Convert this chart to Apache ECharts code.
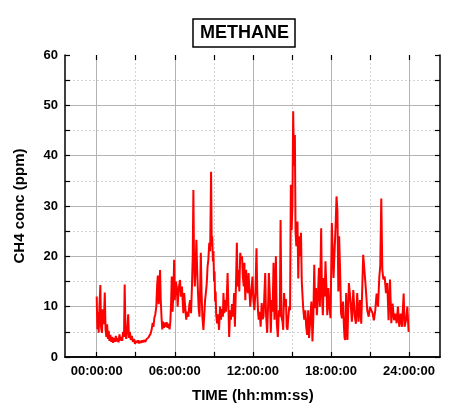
<!DOCTYPE html>
<html>
<head>
<meta charset="utf-8">
<script src="https://cdn.jsdelivr.net/npm/echarts@6/dist/echarts.min.js"></script>
<style>html,body{margin:0;padding:0;background:#fff}#c{width:463px;height:412px}</style>
</head>
<body>
<div id="c"></div>
<script>
// Time of day (hours) and CH4 concentration (ppm)
var timeHours = [
  0.00,0.05,0.10,0.15,0.22,0.28,0.33,0.40,0.47,0.55,0.62,0.68,0.74,0.80,0.86,0.92,0.98,1.05,1.12,1.19,1.26,1.33,1.40,1.47,1.54,1.61,1.68,1.75,1.82,1.89,1.96,2.03,2.10,
  2.15,2.21,2.27,2.34,2.42,2.48,2.55,2.62,2.70,2.78,2.86,2.94,
  3.02,3.10,3.18,3.26,3.34,3.42,3.50,3.58,3.66,3.74,3.82,3.90,3.98,4.06,4.14,4.22,4.30,4.36,4.43,4.50,
  4.58,4.65,4.70,4.76,4.82,4.87,4.92,4.98,5.04,5.10,5.17,5.24,5.31,5.38,5.45,5.52,5.60,5.66,5.72,5.77,5.83,5.90,5.95,6.00,
  6.08,6.15,6.22,6.30,6.40,6.47,6.55,6.62,6.66,6.72,6.80,6.88,6.95,7.05,7.12,7.18,7.25,7.32,7.38,7.43,7.48,7.54,7.60,7.66,7.72,7.78,7.84,7.90,7.96,
  8.00,8.06,8.12,8.20,8.27,8.33,8.40,8.46,8.52,8.58,8.65,8.72,8.79,8.84,8.88,8.93,8.97,9.02,9.06,9.10,9.14,9.18,
  9.25,9.32,9.40,9.48,9.55,9.62,9.70,9.74,9.80,9.87,9.93,10.00,10.06,10.12,10.18,10.25,10.32,10.40,10.48,10.56,10.62,10.70,10.77,10.83,10.90,10.96,
  11.03,11.10,11.17,11.23,11.30,11.35,11.42,11.48,11.55,11.62,11.67,11.73,11.80,11.87,11.97,12.04,12.12,12.20,12.28,12.34,12.40,12.45,12.52,12.60,12.68,12.75,12.82,12.88,12.95,
  13.01,13.10,13.17,13.23,13.30,13.38,13.45,13.52,13.59,13.66,13.72,13.77,13.84,13.92,14.00,14.07,14.13,14.20,14.28,14.33,14.40,14.47,14.54,14.60,14.66,14.72,14.80,14.86,
  14.92,14.98,15.04,15.10,15.16,15.23,15.28,15.34,15.43,15.49,15.55,15.62,15.70,15.76,15.82,15.87,15.95,16.03,16.10,16.18,16.25,16.32,16.40,16.50,16.58,16.65,16.72,16.78,16.85,16.92,
  17.00,17.08,17.15,17.25,17.31,17.38,17.45,17.52,17.58,17.65,17.72,17.80,17.88,17.97,18.07,18.13,18.20,18.28,18.36,18.43,18.50,18.57,18.63,18.70,18.78,18.85,18.93,19.00,19.05,
  19.10,19.17,19.27,19.38,19.51,19.61,19.72,19.82,19.92,20.02,20.12,20.23,20.33,20.48,20.59,20.69,20.79,20.90,
  21.00,21.10,21.20,21.30,21.41,21.51,21.62,21.72,21.79,21.87,21.95,22.03,22.13,22.23,22.33,22.43,22.54,22.64,22.74,22.85,22.95,23.05,23.15,23.25,23.36,23.46,23.59,23.66,23.77,23.87,23.97
];
var ch4Ppm = [
  12.0,5.5,9.0,4.8,10.5,14.3,6.0,4.8,9.5,6.5,12.8,5.5,4.0,6.5,3.6,5.2,3.2,4.4,3.0,4.0,2.8,3.8,3.0,4.2,3.1,3.8,2.9,4.5,3.3,4.0,3.2,5.0,4.0,
  14.4,5.0,3.6,5.2,8.5,3.8,5.0,3.4,4.2,3.0,3.6,2.6,
  3.2,2.8,3.3,2.7,3.2,2.8,3.3,2.9,3.4,3.0,3.5,3.2,3.9,3.6,4.6,5.4,6.8,6.0,7.8,8.4,
  10.0,14.5,16.2,10.5,14.0,17.3,11.5,8.0,5.5,7.0,5.8,6.8,6.0,6.9,5.8,6.6,5.5,7.0,11.0,16.0,9.0,13.0,19.3,11.3,
  15.0,14.0,10.0,13.5,15.3,12.0,14.0,10.5,8.7,12.7,10.0,7.4,9.0,8.0,10.5,11.3,8.7,14.0,20.0,33.2,19.3,14.0,18.0,23.3,17.3,13.0,9.5,8.0,14.5,
  20.7,12.7,8.0,5.4,8.5,11.3,13.0,14.7,18.0,19.3,22.7,21.0,36.8,22.0,24.0,19.0,21.0,15.0,17.0,11.0,13.0,8.5,
  6.7,8.5,5.4,10.0,7.4,9.5,8.0,12.7,8.7,11.3,9.0,12.0,16.7,10.0,4.0,9.3,7.4,10.5,8.0,12.7,6.0,14.0,22.7,14.0,17.3,13.0,
  20.7,19.5,20.0,16.0,14.0,18.7,11.3,17.3,14.0,12.7,16.7,13.5,10.0,12.5,16.0,11.3,9.3,13.0,21.6,12.7,9.0,7.4,9.0,6.0,10.7,7.5,8.0,12.0,16.7,
  8.7,4.8,10.0,16.7,12.7,4.8,11.3,9.0,18.7,7.4,12.0,20.0,6.7,4.0,9.3,8.0,27.2,8.0,7.0,5.4,12.7,10.0,11.5,6.0,5.4,7.7,10.0,9.3,
  34.2,25.2,30.0,48.8,38.0,44.1,25.0,22.0,26.9,15.6,24.0,20.0,24.7,15.0,12.0,9.7,7.4,9.3,6.0,4.4,9.3,3.8,7.0,11.0,3.1,8.0,18.3,9.7,13.7,8.3,
  12.0,17.7,10.0,25.6,12.3,8.3,15.7,12.0,19.0,14.0,8.3,13.7,10.0,7.7,26.6,21.7,15.7,21.0,26.0,31.9,29.0,13.0,24.0,17.7,8.7,7.7,11.0,6.0,3.8,
  3.4,12.7,3.4,14.7,11.0,7.0,13.3,8.3,6.6,12.7,7.0,11.3,6.6,20.3,16.7,13.3,9.3,8.0,
  9.9,9.3,8.7,7.3,9.3,12.6,10.0,16.0,18.0,31.5,17.3,15.4,16.0,12.7,14.7,7.3,15.4,6.7,10.6,7.3,8.6,6.7,10.0,6.0,8.6,6.0,12.6,6.0,7.3,10.0,5.0
];
var xTickHours = [0, 6, 12, 18, 24];
var yTicks = [0, 10, 20, 30, 40, 50, 60];

var FONT = '"Liberation Sans", Arial, sans-serif';
var seriesData = timeHours.map(function (h, i) { return [h, ch4Ppm[i]]; });
function pad(n) { return (n < 10 ? '0' : '') + n; }

var chart = echarts.init(document.getElementById('c'), null, {renderer: 'canvas'});
var frameLine = {show: true, lineStyle: {color: '#000', width: 1.5}};
var inTick = {show: true, inside: true, length: 5, lineStyle: {color: '#000', width: 1.2}};
var noLabel = {show: false};
var noSplit = {show: false};
var xMin = xTickHours[0], xMax = xTickHours[xTickHours.length - 1];
var yMin = yTicks[0], yMax = yTicks[yTicks.length - 1];

chart.setOption({
  animation: false,
  backgroundColor: '#fff',
  title: {
    text: 'METHANE', left: 193, top: 19,
    borderColor: '#000', borderWidth: 1.5, padding: [5, 6, 5, 7],
    textStyle: {fontFamily: FONT, fontWeight: 'bold', fontSize: 18, color: '#000'}
  },
  grid: [
    {left: 65, right: 23, top: 55, bottom: 55},
    {left: 96.7, right: 54, top: 55, bottom: 55}
  ],
  xAxis: [
    {gridIndex: 0, type: 'value', min: 0, max: 1, position: 'bottom', axisLine: frameLine,
     axisTick: {show: false}, axisLabel: noLabel, splitLine: noSplit},
    {gridIndex: 0, type: 'value', min: 0, max: 1, position: 'top', axisLine: frameLine,
     axisTick: {show: false}, axisLabel: noLabel, splitLine: noSplit},
    {gridIndex: 1, type: 'value', min: xMin, max: xMax, interval: 6, position: 'bottom',
     name: 'TIME (hh:mm:ss)', nameLocation: 'middle', nameGap: 31,
     nameTextStyle: {fontFamily: FONT, fontWeight: 'bold', fontSize: 15, color: '#000'},
     axisLine: {show: false}, axisTick: {show: false},
     axisLabel: {fontFamily: FONT, fontWeight: 'bold', fontSize: 13, color: '#000', margin: 8,
       formatter: function (v) { return pad(Math.round(v)) + ':00:00'; }},
     splitLine: {show: true, lineStyle: {color: '#b4b4b4', width: 1}},
     minorTick: {show: false, splitNumber: 2},
     minorSplitLine: {show: true, lineStyle: {color: '#d4d4d4', width: 1, type: [2, 2]}}},
    {gridIndex: 1, type: 'value', min: xMin, max: xMax, interval: 3, position: 'bottom',
     axisLine: {show: false}, axisTick: inTick, axisLabel: noLabel, splitLine: noSplit},
    {gridIndex: 1, type: 'value', min: xMin, max: xMax, interval: 3, position: 'top',
     axisLine: {show: false}, axisTick: inTick, axisLabel: noLabel, splitLine: noSplit}
  ],
  yAxis: [
    {gridIndex: 0, type: 'value', min: yMin, max: yMax, interval: 10, position: 'left',
     name: 'CH4 conc (ppm)', nameLocation: 'middle', nameGap: 38,
     nameTextStyle: {fontFamily: FONT, fontWeight: 'bold', fontSize: 15, color: '#000'},
     axisLine: frameLine, axisTick: {show: false},
     axisLabel: {fontFamily: FONT, fontWeight: 'bold', fontSize: 13, color: '#000', margin: 7},
     splitLine: {show: true, showMinLine: false, showMaxLine: false, lineStyle: {color: '#b4b4b4', width: 1}},
     minorTick: {show: false, splitNumber: 2},
     minorSplitLine: {show: true, lineStyle: {color: '#d4d4d4', width: 1, type: [2, 2]}}},
    {gridIndex: 0, type: 'value', min: yMin, max: yMax, interval: 5, position: 'left',
     axisLine: {show: false}, axisTick: inTick, axisLabel: noLabel, splitLine: noSplit},
    {gridIndex: 0, type: 'value', min: yMin, max: yMax, interval: 5, position: 'right',
     axisLine: frameLine, axisTick: inTick, axisLabel: noLabel, splitLine: noSplit},
    {gridIndex: 1, type: 'value', min: yMin, max: yMax, show: false}
  ],
  series: [{
    type: 'line', xAxisIndex: 2, yAxisIndex: 3, data: seriesData,
    showSymbol: false, symbol: 'none',
    lineStyle: {color: '#ff0000', width: 2}, z: 5
  }]
});
</script>
</body>
</html>
